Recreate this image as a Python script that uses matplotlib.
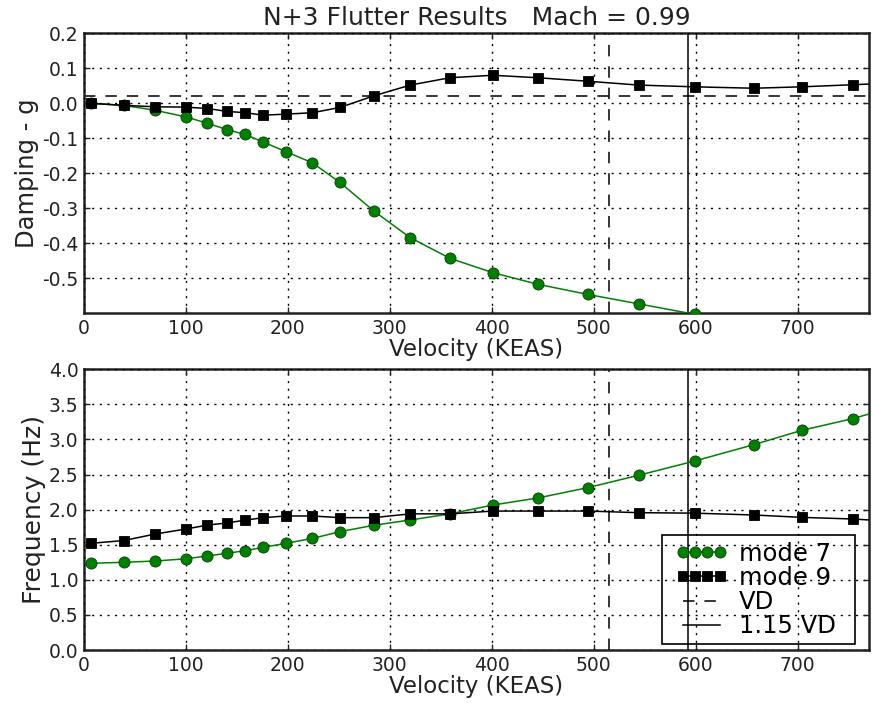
import matplotlib
matplotlib.use("Agg")
import matplotlib.pyplot as plt
from matplotlib.patches import Rectangle
import numpy as np

# ---- data ----
velocity = [6.5, 39, 70, 100, 121, 140, 158, 176, 198, 224, 251, 284, 320,
            359, 401, 445, 494, 544, 599, 657, 704, 754]

damp_mode7 = [0.0, -0.006, -0.020, -0.039, -0.057, -0.075, -0.089, -0.111,
              -0.138, -0.170, -0.226, -0.307, -0.384, -0.443, -0.484, -0.517,
              -0.546, -0.573, -0.603]
damp_mode9 = [0.0, -0.006, -0.010, -0.011, -0.015, -0.023, -0.027, -0.034,
              -0.031, -0.027, -0.012, 0.021, 0.052, 0.073, 0.080, 0.073,
              0.063, 0.052, 0.047, 0.043, 0.047, 0.053]

freq_mode7 = [1.235, 1.25, 1.268, 1.30, 1.34, 1.378, 1.415, 1.463, 1.52, 1.59,
              1.686, 1.777, 1.853, 1.94, 2.066, 2.166, 2.313, 2.49, 2.693,
              2.926, 3.13, 3.297]
freq_mode9 = [1.52, 1.56, 1.653, 1.724, 1.78, 1.81, 1.85, 1.886, 1.91, 1.91,
              1.886, 1.886, 1.94, 1.94, 1.98, 1.98, 1.98, 1.957, 1.95, 1.924,
              1.89, 1.867]

# values at the right edge of the plot (line continues to the frame)
edge_velocity = 770
edge_damp_mode9 = 0.055
edge_freq_mode7 = 3.363
edge_freq_mode9 = 1.853

VD = 515
VD115 = 1.15 * VD
g_req = 0.02

title = "N+3 Flutter Results   Mach = 0.99"
damp_ticks = [-0.5, -0.4, -0.3, -0.2, -0.1, 0.0, 0.1, 0.2]
freq_ticks = [0.0, 0.5, 1.0, 1.5, 2.0, 2.5, 3.0, 3.5, 4.0]
vel_ticks = [0, 100, 200, 300, 400, 500, 600, 700]

plt.rcParams['font.family'] = ['DejaVu Sans']
TXT = '#222222'
GREEN = '#008000'
DASH = (0, (7.5, 6.5))

fig = plt.figure(figsize=(8.72, 7.08), dpi=100)
ax1 = fig.add_axes([0.0963, 0.5575, 0.9003, 0.3955])
ax2 = fig.add_axes([0.0963, 0.0819, 0.9003, 0.3965])

def style(ax):
    for s in ax.spines.values():
        s.set_linewidth(1.8)
        s.set_color('#222222')
    ax.tick_params(direction='in', length=4, width=1, labelsize=13.5,
                   colors=TXT, top=True, right=True, pad=4)
    ax.grid(True, color='k', linestyle=(0, (1.5, 4.0)), linewidth=1.0)
    ax.set_axisbelow(False)
    ax.set_xlim(0, 770)
    ax.set_xticks(vel_ticks)
    ax.set_xlabel("Velocity (KEAS)", fontsize=16.5, color=TXT, labelpad=0)

def plot_mode(ax, x, y, ex, ey, color, marker, ms, mec, label):
    xs = list(x) + ([ex] if ey is not None else [])
    ys = list(y) + ([ey] if ey is not None else [])
    ax.plot(xs, ys, color=color, linewidth=1.1, marker=marker, markersize=ms,
            markerfacecolor=color, markeredgecolor=mec, markeredgewidth=0.6,
            markevery=list(range(len(y))), label=label, zorder=3)

# --- top: damping ---
style(ax1)
ax1.axhline(g_req, color='k', linestyle=DASH, linewidth=1.1, zorder=2)
plot_mode(ax1, velocity[:len(damp_mode7)], damp_mode7, None, None,
          GREEN, 'o', 8, '#0b3d0b', 'mode 7')
plot_mode(ax1, velocity, damp_mode9, edge_velocity, edge_damp_mode9,
          'k', 's', 7.5, 'k', 'mode 9')
ax1.axvline(VD, color='k', linestyle=DASH, linewidth=1.1, zorder=2)
ax1.axvline(VD115, color='k', linestyle='-', linewidth=1.1, zorder=2)
ax1.set_ylim(-0.6, 0.2)
ax1.set_yticks(damp_ticks)
ax1.set_yticklabels([f"{t:.1f}" for t in damp_ticks])
ax1.set_ylabel("Damping - g", fontsize=17.5, color=TXT, labelpad=2)
ax1.set_title(title, fontsize=18, color=TXT, pad=6)

# --- bottom: frequency ---
style(ax2)
plot_mode(ax2, velocity, freq_mode7, edge_velocity, edge_freq_mode7,
          GREEN, 'o', 8, '#0b3d0b', 'mode 7')
plot_mode(ax2, velocity, freq_mode9, edge_velocity, edge_freq_mode9,
          'k', 's', 7.5, 'k', 'mode 9')
ax2.axvline(VD, color='k', linestyle=DASH, linewidth=1.1, zorder=2,
            label='VD')
ax2.axvline(VD115, color='k', linestyle='-', linewidth=1.1, zorder=2,
            label='1.15 VD')
ax2.set_ylim(0, 4.0)
ax2.set_yticks(freq_ticks)
ax2.set_yticklabels([f"{t:.1f}" for t in freq_ticks])
ax2.set_ylabel("Frequency (Hz)", fontsize=18, color=TXT, labelpad=2)

# legend (transparent) with a plain black frame around it
box_x0, box_x1, box_y0, box_y1 = 0.7363, 0.982, 0.0214, 0.4097
leg = ax2.legend(loc='lower right', bbox_to_anchor=(0.967, 0.0157),
                 numpoints=4, fontsize=17.5, frameon=False,
                 handlelength=2.1, handletextpad=0.5, labelspacing=0.01,
                 borderpad=0.3, borderaxespad=0.0)
ax2.add_patch(Rectangle((box_x0, box_y0), box_x1 - box_x0, box_y1 - box_y0,
                        transform=ax2.transAxes, fill=False, edgecolor='k',
                        linewidth=1.2, zorder=6))

fig.savefig("out.png", dpi=100)
